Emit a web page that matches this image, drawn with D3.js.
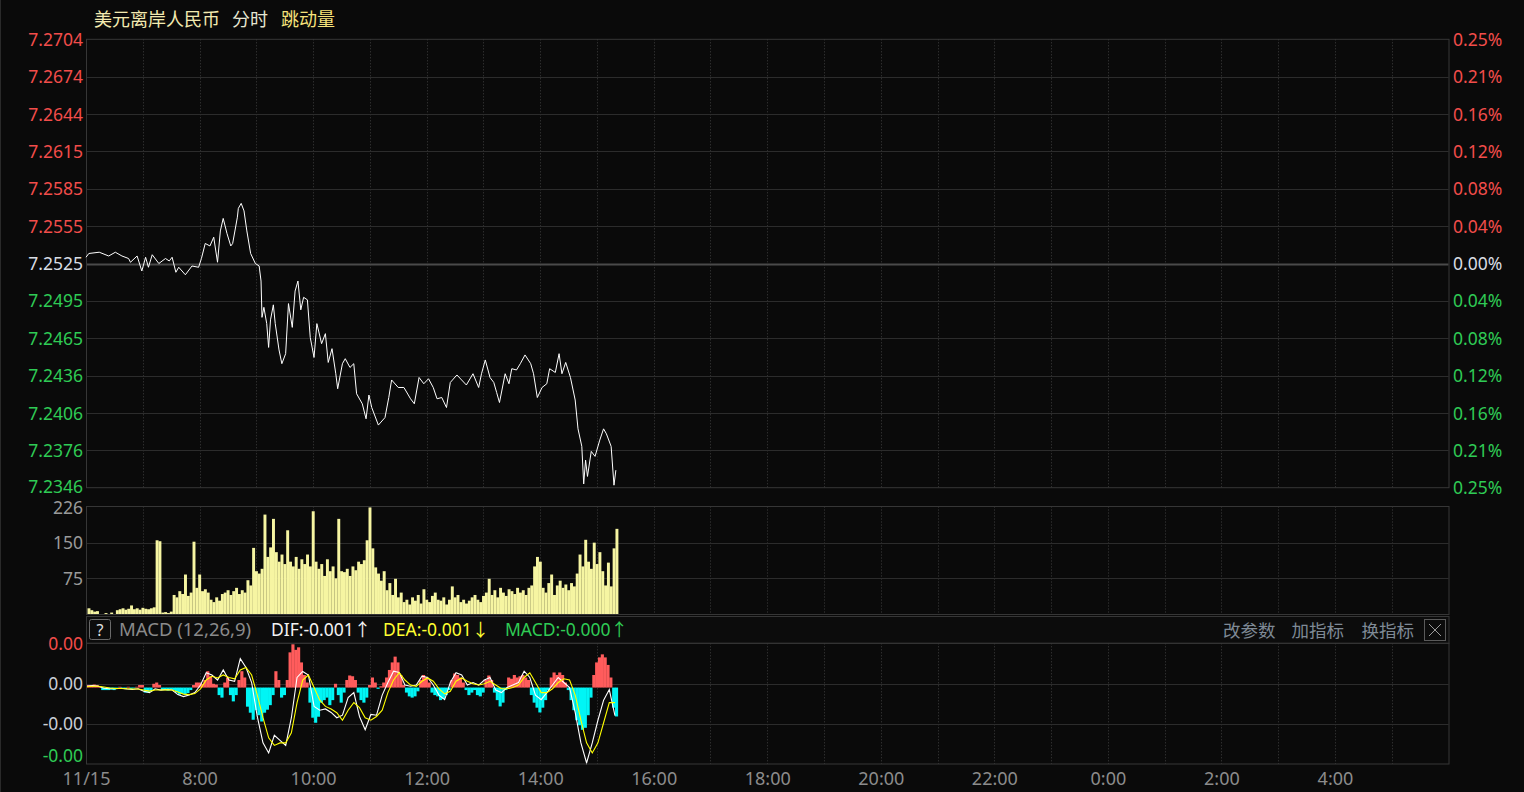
<!DOCTYPE html>
<html><head><meta charset="utf-8">
<script src="https://cdn.jsdelivr.net/npm/d3@7"></script>
<style>
html,body{margin:0;padding:0;background:#0a0a0a;overflow:hidden;}
svg{display:block;}
text{font-family:"Noto Sans","Noto Sans CJK SC",sans-serif;}
</style></head><body>
<svg id="chart" width="1524" height="792"></svg>
<script>
// ---------------- data ----------------
const titleText = "美元离岸人民币";
const modeLabels = ["分时", "跳动量"];
const prevClose = 7.2525;
const priceTickLabels = ["7.2704","7.2674","7.2644","7.2615","7.2585","7.2555","7.2525","7.2495","7.2465","7.2436","7.2406","7.2376","7.2346"];
const pctTickLabels = ["0.25%","0.21%","0.16%","0.12%","0.08%","0.04%","0.00%","0.04%","0.08%","0.12%","0.16%","0.21%","0.25%"];
const timeTickLabels = ["11/15","8:00","10:00","12:00","14:00","16:00","18:00","20:00","22:00","0:00","2:00","4:00"];
const priceTimes = ["06:00","06:03","06:14","06:24","06:31","06:38","06:45","06:47","06:54","06:59",
"07:03","07:06","07:10","07:17","07:24","07:28","07:31","07:35","07:38","07:45",
"07:52","07:59","08:02","08:06","08:11","08:15","08:19","08:22","08:25","08:29",
"08:33","08:35","08:40","08:41","08:44","08:47","08:50","08:54","08:59","09:03",
"09:05","09:06","09:08","09:11","09:13","09:15","09:18","09:20","09:24","09:27",
"09:31","09:34","09:38","09:41","09:44","09:47","09:50","09:54","09:57","10:01",
"10:04","10:09","10:13","10:16","10:20","10:24","10:26","10:31","10:34","10:39",
"10:43","10:46","10:52","10:56","10:59","11:02","11:09","11:16","11:20","11:23",
"11:30","11:36","11:43","11:47","11:52","11:57","12:02","12:07","12:11","12:16",
"12:21","12:25","12:32","12:37","12:42","12:49","12:55","12:58","13:02","13:07",
"13:11","13:14","13:17","13:23","13:27","13:30","13:35","13:39","13:44","13:50",
"13:53","13:57","14:02","14:07","14:10","14:16","14:20","14:23","14:27","14:32",
"14:37","14:40","14:44","14:46","14:48","14:50","14:54","14:58","15:03","15:07",
"15:10","15:15","15:18","15:20"];
const prices = [7.2530,7.2533,7.2534,7.2531,7.2534,7.2531,7.2529,7.2526,7.2531,7.2519,
7.2530,7.2522,7.2532,7.2525,7.2529,7.2527,7.2530,7.2518,7.2522,7.2516,
7.2523,7.2522,7.2529,7.2541,7.2539,7.2546,7.2526,7.2551,7.2561,7.2549,
7.2539,7.2541,7.2562,7.2569,7.2573,7.2567,7.2551,7.2533,7.2525,7.2523,
7.2511,7.2482,7.2490,7.2477,7.2458,7.2480,7.2492,7.2477,7.2456,7.2445,
7.2453,7.2493,7.2474,7.2503,7.2511,7.2488,7.2498,7.2496,7.2466,7.2450,
7.2477,7.2461,7.2469,7.2446,7.2457,7.2437,7.2425,7.2445,7.2449,7.2442,
7.2445,7.2421,7.2413,7.2401,7.2420,7.2410,7.2396,7.2402,7.2418,7.2432,
7.2426,7.2426,7.2417,7.2413,7.2434,7.2429,7.2433,7.2426,7.2417,7.2418,
7.2410,7.2430,7.2436,7.2432,7.2428,7.2437,7.2426,7.2437,7.2448,7.2434,
7.2430,7.2422,7.2414,7.2437,7.2429,7.2441,7.2440,7.2445,7.2452,7.2445,
7.2437,7.2418,7.2426,7.2429,7.2441,7.2438,7.2453,7.2437,7.2446,7.2434,
7.2416,7.2393,7.2379,7.2349,7.2368,7.2355,7.2375,7.2371,7.2384,7.2393,
7.2389,7.2379,7.2348,7.2360];
// tick volume, one value per 3 minutes from 06:00
const volumeStepMin = 3;
const volumes = [12,8,5,6,0,0,2,0,3,0,
8,10,12,9,11,18,10,12,9,13,11,10,12,14,
155,153,3,4,2,5,
40,35,48,42,83,38,45,152,55,83,48,52,45,
30,25,35,28,42,45,50,40,48,55,42,50,45,71,60,139,90,85,95,209,
120,140,200,130,110,125,105,176,110,100,120,95,115,105,125,100,216,
110,95,105,80,115,90,100,75,200,90,88,95,80,100,92,110,105,113,155,224,138,
98,85,70,90,50,65,40,74,35,45,
25,30,20,35,28,40,22,52,30,25,38,45,30,28,35,20,30,58,35,40,25,30,22,28,35,40,30,25,38,45,
74,40,50,35,55,45,38,52,48,42,55,45,50,40,55,60,
100,120,110,55,45,65,83,40,60,70,55,62,50,65,58,
85,125,100,156,110,95,150,105,130,90,60,108,58,138,179];
const volTickValues = [226, 150, 75];
// MACD values in units of 0.0001
const macdUnit = 0.0001;
const macdHistStepMin = 3;
const macdHist = [1,1,1.2,1,0.5,-1,-1,-1,-0.8,-1,
-0.5,0.3,-0.4,-0.6,0.3,-0.5,-0.3,0.3,1,1,
-2,-2,-1.5,1.5,2,1,-1,-1,-1.2,-0.8,
-1,-2,-2.8,-2.5,-2.8,-2.2,-1,1,2,2,
1.5,3,6.5,4.5,1.5,1.2,-3,-4,2,4,
-3,-5.5,-3,3,6.5,4,-7.6,-10,-12.8,-9,
-11,-13.5,-10,-8.8,-7,-3,6.5,3,-4,-3,
3,14,17.2,15,16,10,5,2,-6,-12,
-14,-11.6,-6,-5,-4,-7,-5,1.5,-3,-6,
-2,3,4.8,4.5,3,-2,-5,-6,-4,1,
4,2,-0.5,0.5,2,4,7,10,12.3,10,
5,1,-2,-3.5,-4,-3.5,-1.5,3,5,4,
2,-2,-3,-3.5,-5,-4.5,-3,-1,3,5.6,
5,4,2,-1,-3,-2,-1,-3,-3.5,-2,
3,4.8,3,-2,-5,-7.5,-6,-1,4,3.5,
5,4,4.5,5,4,3,-3,-6,-8,-9.9,
-8,-5,-1,4,6,5,6,5,2,-1,
-5,-9,-13,-15,-16.8,-16,-11,-4,5,10,
12,13.2,12,9,4,-8,-11.5];
const macdLineStepMin = 6;
const macdDif = [0.5,0.8,0.5,-0.3,-0.5,-0.5,-0.3,-0.6,-0.8,-0.5,
-1.5,-2,-0.5,-1,-0.8,-1,-2.8,-3.6,-3,-2,
1,5.9,5,3,7,3,2.5,11.5,8,2,
-11.6,-22,-26,-19,-21,-23,-12,4,6.4,5,
-7.5,-9,-8.5,-9.9,-12,-11,-4,-2,-11.5,-16.8,
-10.7,-11,-3,2,6.5,6,1,0.5,1,4.5,
4,1,-3,-4.8,2,5.9,5,1,2,1,
3,4,-1,-2,0,1,2,6.5,4,-3,
-4.8,-2,1,4,2,0,-10,-22,-30,-22,
-13,-5,-0.8,-11.2];
const macdDea = [0.3,0.5,0.5,0.2,-0.2,-0.4,-0.4,-0.5,-0.6,-0.6,
-1,-1.4,-1,-1,-0.9,-1,-1.8,-2.6,-2.8,-2.4,
-0.5,3,4.5,3.8,5,4,3.5,7,8,5,
-3,-12,-20,-23,-22,-22,-18,-6,3,5,
0,-5,-7.5,-8.5,-10,-13,-9,-6,-8,-12,
-13,-11.5,-9,-2,3,5.9,3,1,0.5,2.5,
3.8,2.5,-0.5,-2.5,-1.5,2.5,3.8,2.5,1.5,1,
1.5,2.5,1,-0.5,-0.5,0,1,4,5.9,2,
-2,-2,-0.5,2,3.5,3,-3,-13,-22,-26,
-22,-14,-6,-6];
const macdTickValues = [17.6, 1.6, -14.4, -26.8];
const macdTickLabels = ["0.00", "0.00", "-0.00", "-0.00"];
const macdHeader = {name: "MACD (12,26,9)", dif: "DIF:-0.001↑", dea: "DEA:-0.001↓", macd: "MACD:-0.000↑"};
const menuLabels = ["改参数", "加指标", "换指标"];

// ---------------- layout ----------------
const W = 1524, H = 792;
const L = 86, R = 1448.5;
const main = {top: 39.3, bottom: 487.7};
const vol = {top: 506.5, bottom: 614.5, zero: 614};
const hdr = {top: 616.5, bottom: 643.3};
const mac = {top: 643.3, bottom: 764};

const RED = "#f24d4a", GREEN = "#2fcb55", GRID = "#2c2c2c", FRAME = "#363636", DOT = "#3d3d3d";
const svg = d3.select("#chart");
svg.append("rect").attr("width", W).attr("height", H).attr("fill", "#0a0a0a");
svg.append("line").attr("x1", 0.5).attr("x2", 0.5).attr("y1", 0).attr("y2", H).attr("stroke", "#2a2a2a");

const t0 = new Date(2023, 10, 15, 6, 0);
const t1 = new Date(2023, 10, 16, 6, 0);
const x = d3.scaleTime().domain([t0, t1]).range([L, R]);
const parseT = s => { const [h, m] = s.split(":").map(Number); return new Date(2023, 10, h < 6 ? 16 : 15, h, m); };

const step = (+priceTickLabels[0] - prevClose) / 6;
const y = d3.scaleLinear().domain([prevClose - 6 * step, prevClose + 6 * step]).range([main.bottom, main.top]);
const yv = d3.scaleLinear().domain([0, 226]).range([vol.zero, vol.top]);
const ym = d3.scaleLinear().domain([-30.4, 17.6]).range([mac.bottom, mac.top]);

const hourLines = d3.range(1, 24).map(h => d3.timeHour.offset(t0, h));
function vgrid(top, bottom) {
  svg.append("g").selectAll("line").data(hourLines).join("line")
    .attr("x1", d => Math.round(x(d)) + 0.5).attr("x2", d => Math.round(x(d)) + 0.5)
    .attr("y1", top).attr("y2", bottom)
    .attr("stroke", DOT).attr("stroke-dasharray", "1 2");
}

// ---------- main panel ----------
const priceTickVals = d3.range(6, -7, -1).map(k => prevClose + k * step);
vgrid(main.top, main.bottom);
svg.append("g").selectAll("line").data(priceTickVals.slice(1, -1)).join("line")
  .attr("x1", L).attr("x2", R)
  .attr("y1", d => Math.round(y(d)) + 0.5).attr("y2", d => Math.round(y(d)) + 0.5)
  .attr("stroke", (d, i) => i === 5 ? "#4a4a4a" : GRID)
  .attr("stroke-width", (d, i) => i === 5 ? 2 : 1);
svg.append("rect").attr("x", L + 0.5).attr("y", main.top).attr("width", R - L).attr("height", main.bottom - main.top)
  .attr("fill", "none").attr("stroke", FRAME);

const colorFor = i => i < 6 ? RED : (i === 6 ? "#d8dde4" : GREEN);
const axL = d3.axisLeft(y).tickValues(priceTickVals).tickFormat((d, i) => priceTickLabels[i]).tickSize(0).tickPadding(0);
const gL = svg.append("g").attr("transform", `translate(${L - 3},0)`).call(axL);
gL.select(".domain").remove();
gL.selectAll("text").attr("fill", (d, i) => colorFor(i)).attr("font-size", 17.5).attr("dy", (d, i) => i === 12 ? "0.25em" : "0.35em").attr("x", 0);

const axR = d3.axisRight(y).tickValues(priceTickVals).tickFormat((d, i) => pctTickLabels[i]).tickSize(0).tickPadding(0);
const gR = svg.append("g").attr("transform", `translate(${R + 4.5},0)`).call(axR);
gR.select(".domain").remove();
gR.selectAll("text").attr("fill", (d, i) => colorFor(i)).attr("font-size", 17.5).attr("dy", "0.35em").attr("x", 0);

const priceData = priceTimes.map((t, i) => ({t: parseT(t), v: prices[i]}));
svg.append("path").datum(priceData)
  .attr("fill", "none").attr("stroke", "#ffffff").attr("stroke-width", 1)
  .attr("d", d3.line().x(d => x(d.t)).y(d => y(d.v)));

// title
const tg = svg.append("g").attr("font-size", 18);
tg.append("text").attr("x", 94).attr("y", 26).attr("fill", "#f3eab0").text(titleText);
tg.append("text").attr("x", 232).attr("y", 26).attr("fill", "#e6e6d2").text(modeLabels[0]);
tg.append("text").attr("x", 281).attr("y", 26).attr("fill", "#f6e27a").text(modeLabels[1]);

// ---------- volume panel ----------
vgrid(vol.top, vol.bottom);
svg.append("g").selectAll("line").data(volTickValues.slice(1)).join("line")
  .attr("x1", L).attr("x2", R)
  .attr("y1", d => Math.round(yv(d)) + 0.5).attr("y2", d => Math.round(yv(d)) + 0.5)
  .attr("stroke", GRID);
const volStepPx = x(d3.timeMinute.offset(t0, volumeStepMin)) - x(t0);
svg.append("g").selectAll("rect").data(volumes).join("rect")
  .attr("x", (d, i) => x(d3.timeMinute.offset(t0, i * volumeStepMin)) + 1.5)
  .attr("width", volStepPx + 0.1)
  .attr("y", d => yv(d)).attr("height", d => yv(0) - yv(d))
  .attr("fill", "#f6f5a2");
svg.append("rect").attr("x", L + 0.5).attr("y", vol.top).attr("width", R - L).attr("height", vol.bottom - vol.top)
  .attr("fill", "none").attr("stroke", FRAME);
const axV = d3.axisLeft(yv).tickValues(volTickValues).tickFormat(d3.format("d")).tickSize(0).tickPadding(0);
const gV = svg.append("g").attr("transform", `translate(${L - 3},0)`).call(axV);
gV.select(".domain").remove();
gV.selectAll("text").attr("fill", "#9a9a9a").attr("font-size", 17.5).attr("dy", (d, i) => i === 0 ? "0.42em" : "0.35em").attr("x", 0);

// ---------- MACD header ----------
svg.append("rect").attr("x", L + 0.5).attr("y", hdr.top).attr("width", R - L).attr("height", hdr.bottom - hdr.top)
  .attr("fill", "#0c0c0c").attr("stroke", FRAME);
svg.append("rect").attr("x", 89.5).attr("y", 619.5).attr("width", 21).attr("height", 20).attr("rx", 2)
  .attr("fill", "none").attr("stroke", "#6a6a6a");
svg.append("text").attr("x", 100).attr("y", 636).attr("text-anchor", "middle").attr("font-size", 16).attr("fill", "#e0e0e0").text("?");
const hg = svg.append("g").attr("font-size", 17.5);
hg.append("text").attr("x", 119).attr("y", 636).attr("fill", "#8a8a8a").attr("font-size", 18.5).text(macdHeader.name);
hg.append("text").attr("x", 271).attr("y", 636).attr("fill", "#f2f2f2").text(macdHeader.dif);
hg.append("text").attr("x", 383).attr("y", 636).attr("fill", "#ffff30").text(macdHeader.dea);
hg.append("text").attr("x", 505).attr("y", 636).attr("fill", "#2fcb55").text(macdHeader.macd);
hg.selectAll(".menu").data(menuLabels).join("text").attr("class", "menu")
  .attr("x", (d, i) => [1223, 1291.5, 1361.5][i]).attr("y", 637).attr("fill", "#7f8a96").text(d => d);
svg.append("rect").attr("x", 1424.5).attr("y", 619.5).attr("width", 21).attr("height", 21)
  .attr("fill", "none").attr("stroke", "#5a5a5a");
svg.append("path").attr("d", "M1429,624 L1441,636 M1441,624 L1429,636").attr("stroke", "#9a9a9a").attr("stroke-width", 1);

// ---------- MACD panel ----------
vgrid(mac.top, mac.bottom);
svg.append("g").selectAll("line").data(macdTickValues.slice(1, 3)).join("line")
  .attr("x1", L).attr("x2", R)
  .attr("y1", d => Math.round(ym(d)) + 0.5).attr("y2", d => Math.round(ym(d)) + 0.5)
  .attr("stroke", GRID);
const histStepPx = x(d3.timeMinute.offset(t0, macdHistStepMin)) - x(t0);
svg.append("g").selectAll("rect").data(macdHist).join("rect")
  .attr("x", (d, i) => x(d3.timeMinute.offset(t0, i * macdHistStepMin)) + 1)
  .attr("width", histStepPx + 0.3)
  .attr("y", d => Math.min(ym(d), ym(0)))
  .attr("height", d => Math.abs(ym(d) - ym(0)))
  .attr("fill", d => d >= 0 ? "#ff5c5c" : "#00f5f5");
const mline = d3.line().x((d, i) => x(d3.timeMinute.offset(t0, i * macdLineStepMin)) + 1).y(d => ym(d));
svg.append("path").datum(macdDif).attr("fill", "none").attr("stroke", "#ffffff").attr("stroke-width", 1.1).attr("d", mline);
svg.append("path").datum(macdDea).attr("fill", "none").attr("stroke", "#ffff00").attr("stroke-width", 1.1).attr("d", mline);
svg.append("rect").attr("x", L + 0.5).attr("y", mac.top).attr("width", R - L).attr("height", mac.bottom - mac.top)
  .attr("fill", "none").attr("stroke", FRAME);
const axM = d3.axisLeft(ym).tickValues(macdTickValues).tickFormat((d, i) => macdTickLabels[i]).tickSize(0).tickPadding(0);
const gM = svg.append("g").attr("transform", `translate(${L - 3},0)`).call(axM);
gM.select(".domain").remove();
gM.selectAll("text").attr("fill", (d, i) => [RED, "#c9ced6", "#c9ced6", GREEN][i]).attr("font-size", 17.5).attr("dy", "0.35em").attr("x", 0);

// ---------- time axis ----------
const timeTicks = d3.range(0, 24, 2).map(h => d3.timeHour.offset(t0, h));
const axB = d3.axisBottom(x).tickValues(timeTicks).tickFormat((d, i) => timeTickLabels[i]).tickSize(0).tickPadding(0);
const gB = svg.append("g").attr("transform", `translate(0,${779})`).call(axB);
gB.select(".domain").remove();
gB.selectAll("text").attr("fill", "#8c8c8c").attr("font-size", 18).attr("dy", "0.35em").attr("y", 0);
</script>
</body></html>
